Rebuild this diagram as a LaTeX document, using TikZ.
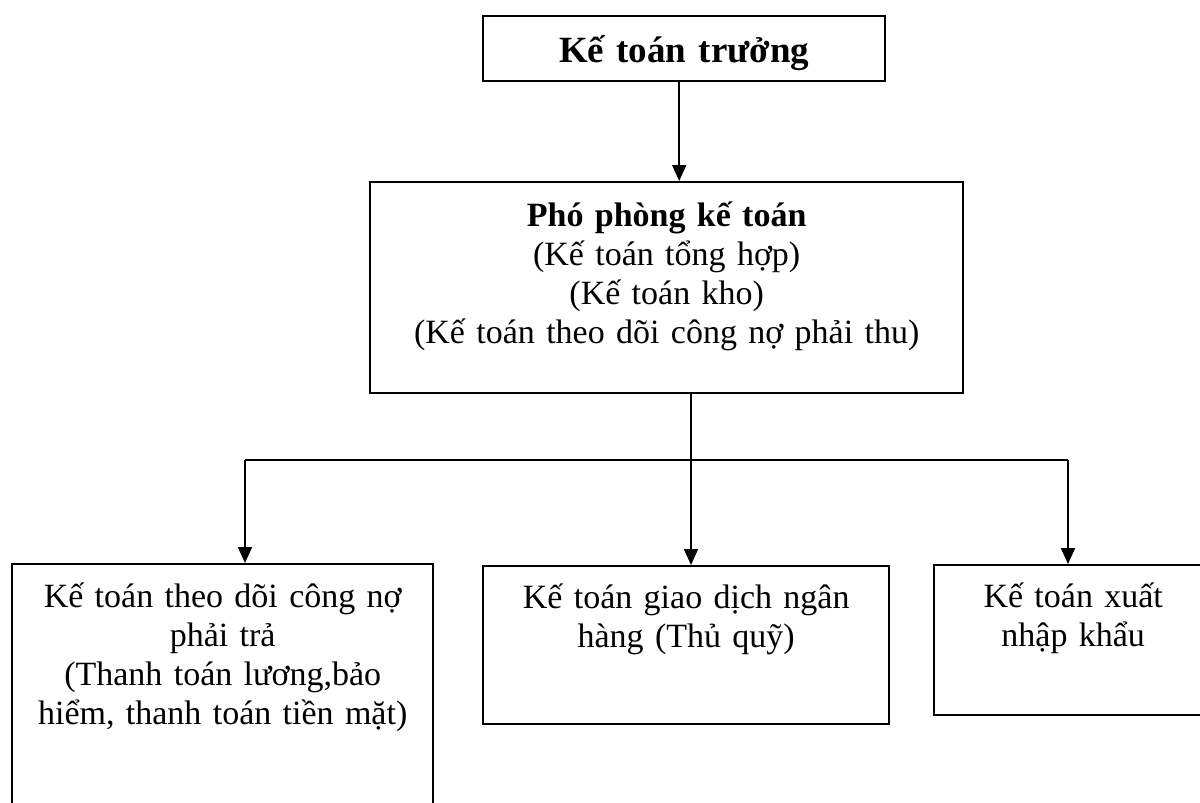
\documentclass[tikz,border=0pt]{standalone}
\usepackage{fontspec}
\setmainfont{Liberation Serif}
\usetikzlibrary{arrows.meta}

\tikzset{
  box/.style={draw, line width=2.4pt, anchor=north west, inner sep=0pt, align=center,
    font=\fontsize{34}{39}\selectfont},
  conn/.style={line width=1.8pt},
}

\begin{document}
\begin{tikzpicture}[x=1pt, y=-1pt, >={Triangle[length=16pt,width=14pt]}]
  \useasboundingbox (0,0) rectangle (1200,803);
  \fill[white] (0,0) rectangle (1200,803);

  \node[box, font=\bfseries\fontsize{37}{42}\selectfont, text width=402pt,
    text height=46pt, text depth=19pt] (ktt) at (482,15) {Kế toán trưởng};
  \node[box, text width=593pt, text height=44pt, text depth=167pt] (ppkt) at (369,181)
    {\textbf{Phó phòng kế toán}\\(Kế toán tổng hợp)\\(Kế toán kho)\\(Kế toán theo dõi công nợ phải thu)};
  \node[box, text width=421pt, text height=43pt, text depth=240pt] (ktcn) at (11,563)
    {Kế toán theo dõi công nợ\\phải trả\\(Thanh toán lương,bảo\\hiểm, thanh toán tiền mặt)};
  \node[box, text width=406pt, text height=42pt, text depth=116pt] (ktnh) at (482,565)
    {Kế toán giao dịch ngân\\hàng (Thủ quỹ)};
  \node[box, text width=278pt, text height=42pt, text depth=108pt] (ktxnk) at (933,564)
    {Kế toán xuất\\nhập khẩu};

  \coordinate (bus) at (691,460);
  \coordinate (busl) at (245,460);
  \coordinate (busr) at (1068,460);

  \draw[conn, ->] ([xshift=-5pt]ktt.south) to ([xshift=-5pt]ktt.south |- ppkt.north);
  \draw[conn] (ppkt.south -| bus) to (bus);
  \draw[conn] (busl) to (busr);
  \draw[conn, ->] (busl) to (busl |- ktcn.north);
  \draw[conn, ->] (bus) to (bus |- ktnh.north);
  \draw[conn, ->] (busr) to (busr |- ktxnk.north);
\end{tikzpicture}
\end{document}
